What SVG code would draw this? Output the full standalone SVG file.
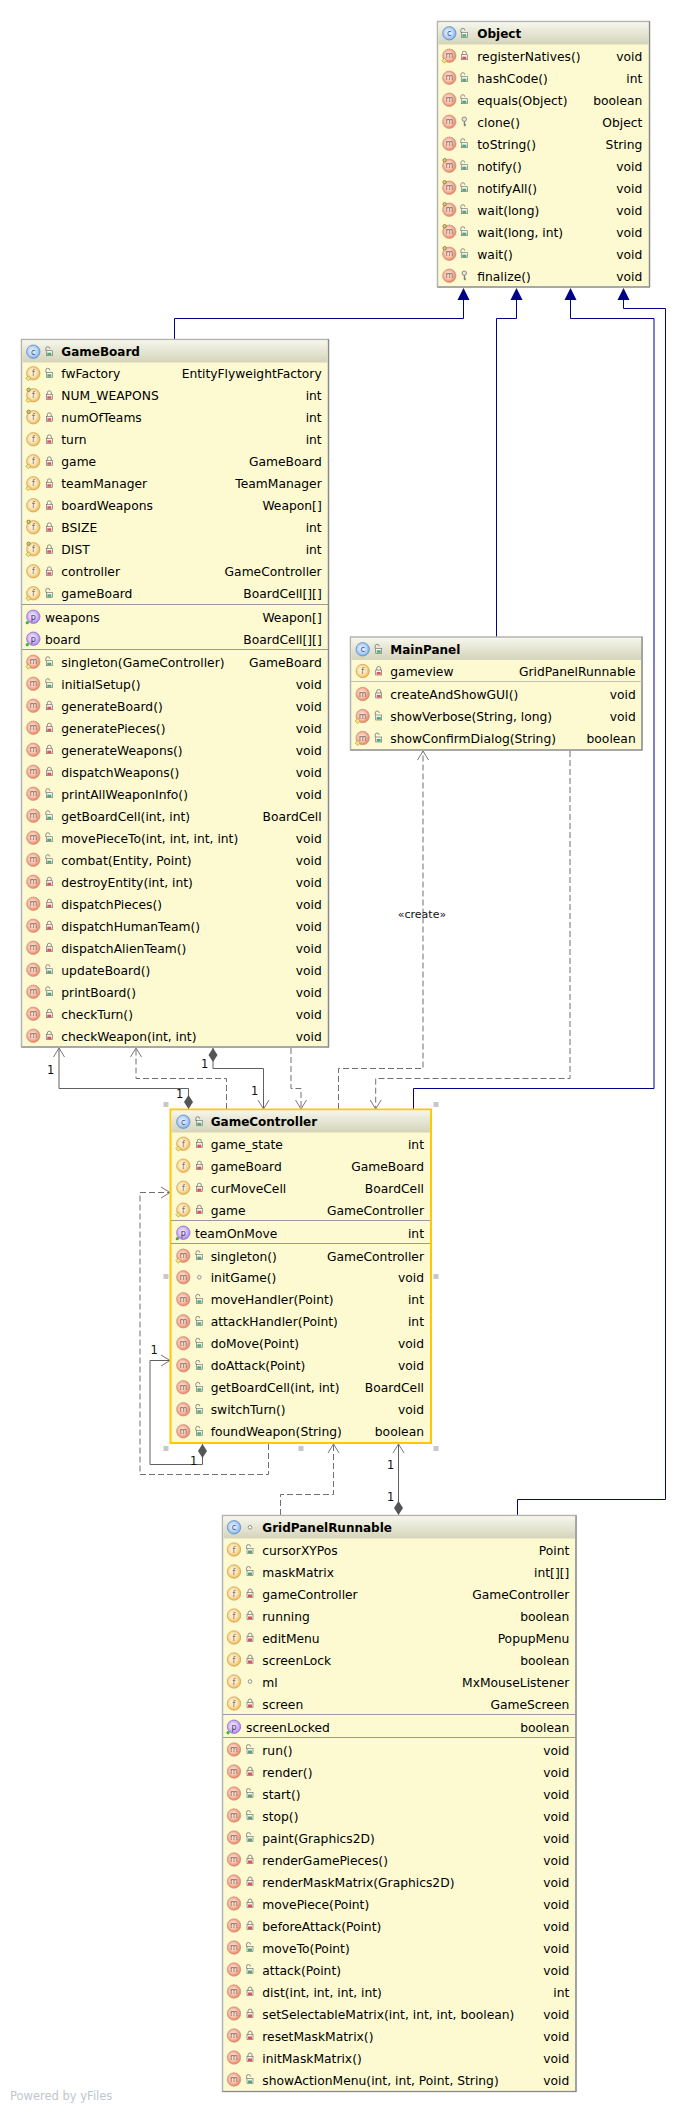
<svg xmlns="http://www.w3.org/2000/svg" width="685" height="2112" viewBox="0 0 685 2112">
<style>
text{font-family:"DejaVu Sans","Liberation Sans",sans-serif;font-size:12.3px;fill:#000}
.r{text-anchor:end}
.h{font-weight:bold;font-size:12px}
.box{stroke:#b4b4b4;stroke-width:1.5}
.edge{fill:none;stroke:#8a8a8a;stroke-width:1.2}
.sep{stroke:#9a9a9a;stroke-width:1}
.ic{font-size:8px;text-anchor:middle;fill:#806860}
.inh{fill:none;stroke:#00008b;stroke-width:1;marker-end:url(#tri)}
.dep{fill:none;stroke:#707070;stroke-width:1;stroke-dasharray:6 3;marker-end:url(#open)}
.ass{fill:none;stroke:#606060;stroke-width:1;marker-end:url(#open);marker-start:url(#dia)}
.lab{font-size:11.5px;fill:#111}
.hd{fill:#c8c8c8}
</style>
<defs>
<linearGradient id="hg" x1="0" y1="0" x2="0" y2="1"><stop offset="0" stop-color="#f6f6ec"/><stop offset="1" stop-color="#d4d4ba"/></linearGradient>
<radialGradient id="gm" cx=".45" cy=".45" r=".6"><stop offset="0" stop-color="#fdeee6"/><stop offset=".5" stop-color="#f8c4ae"/><stop offset="1" stop-color="#ea7050"/></radialGradient>
<radialGradient id="gf" cx=".45" cy=".45" r=".6"><stop offset="0" stop-color="#fffaf0"/><stop offset=".5" stop-color="#fbe4b4"/><stop offset="1" stop-color="#f0ad3c"/></radialGradient>
<radialGradient id="gp" cx=".45" cy=".45" r=".6"><stop offset="0" stop-color="#f4ecff"/><stop offset=".5" stop-color="#d8c4f6"/><stop offset="1" stop-color="#a679e6"/></radialGradient>
<radialGradient id="gc" cx=".45" cy=".45" r=".6"><stop offset="0" stop-color="#eef5ff"/><stop offset=".5" stop-color="#c0d9f8"/><stop offset="1" stop-color="#6ea6ea"/></radialGradient>
<marker id="tri" markerUnits="userSpaceOnUse" markerWidth="14" markerHeight="14" refX="0" refY="7" orient="auto"><path d="M0 1L12 7L0 13Z" fill="#00008b"/></marker>
<marker id="open" markerUnits="userSpaceOnUse" markerWidth="12" markerHeight="14" refX="10" refY="7" orient="auto"><path d="M1 1.500L10 7L1 12.500" fill="none" stroke="#777" stroke-width="1"/></marker>
<marker id="dia" markerUnits="userSpaceOnUse" markerWidth="16" markerHeight="12" refX="0" refY="6" orient="auto"><path d="M0 6L7 1.500L14 6L7 10.500Z" fill="#555"/></marker>
<g id="m"><circle r="6.700" fill="url(#gm)" stroke="#c89080" stroke-width=".7"/><text class="ic" y="2.500">m</text></g>
<g id="f"><circle r="6.700" fill="url(#gf)" stroke="#c8a050" stroke-width=".7"/><text class="ic" y="3">f</text></g>
<g id="p"><circle r="6.700" fill="url(#gp)" stroke="#8860c0" stroke-width=".7"/><text class="ic" y="3" style="fill:#402870">p</text><circle cx="-6" cy="6" r="1.600" fill="#40b040"/></g>
<g id="c"><circle r="6.700" fill="url(#gc)" stroke="#5a84c0" stroke-width=".7"/><text class="ic" y="3" style="fill:#30508c">c</text></g>
<path id="st" d="M-5 2.500L-2.500 5L-5 7.500L-7.500 5Z" fill="#f6e27a" stroke="#a89040" stroke-width=".6"/>
<g id="fi"><circle cx="-4.700" cy="-5.500" r="1.700" fill="#e8d070" stroke="#706030" stroke-width=".7"/></g>
<g id="ms"><use href="#m"/><use href="#st"/></g>
<g id="mf"><use href="#m"/><use href="#fi"/></g>
<g id="fs"><use href="#f"/><use href="#st"/></g>
<g id="ff"><use href="#f"/><use href="#fi"/></g>
<g id="fsf"><use href="#f"/><use href="#st"/><use href="#fi"/></g>
<g id="pub"><path d="M-3.500 -1V-3a2 2 0 0 1 4 0" fill="none" stroke="#808080" stroke-width=".9"/><rect x="-3" y="-1" width="6" height="5" fill="#f4f4f0" stroke="#606860" stroke-width=".6"/><rect x="-2" y="1" width="4" height="2.500" fill="#50a878"/></g>
<g id="pri"><path d="M-2 -1V-2.500a2 2 0 0 1 4 0V-1" fill="none" stroke="#808080" stroke-width=".9"/><rect x="-3" y="-1" width="6" height="5" fill="#f4f0f0" stroke="#686060" stroke-width=".6"/><rect x="-2" y="1" width="4" height="2.500" fill="#d85858"/></g>
<g id="pro"><circle cy="-2.500" r="2.200" fill="#e8e8e0" stroke="#707070" stroke-width=".8"/><path d="M0 -.5V4M0 2.500H1.500M0 4H1.500" fill="none" stroke="#607060" stroke-width="1"/></g>
<circle id="pkg" r="1.800" fill="#fff" stroke="#777" stroke-width=".8"/>
</defs>

<g id="connectors">
<path class="inh" d="M174.500 339V318.500H463.500V300"/>
<path class="inh" d="M496.500 637V318.500H516.500V300"/>
<path class="inh" d="M413.500 1109V1088.500H654V318.500H570.500V300"/>
<path class="inh" d="M517.500 1515V1499.500H665.500V308.500H623.500V300"/>
<path class="ass" d="M188.500 1109V1088.500H59V1048"/>
<path class="dep" d="M226.500 1109V1078.500H136V1048"/>
<path class="ass" d="M213 1048V1068.500H263.500V1109"/>
<path class="dep" d="M291 1048V1088.500H301V1109"/>
<path class="dep" d="M338.500 1109V1068.500H423V751"/>
<path class="dep" d="M570 751V1078.500H375.700V1109"/>
<path class="dep" d="M268.500 1444V1474.500H140V1192.500H170"/>
<path class="ass" d="M202.500 1444V1464.500H150V1360.500H170"/>
<path class="dep" d="M280.500 1515V1494.500H333.500V1444"/>
<path class="ass" d="M398.500 1515V1444"/>
<text class="lab" x="47" y="1074">1</text>
<text class="lab" x="176" y="1098">1</text>
<text class="lab" x="201" y="1068">1</text>
<text class="lab" x="251" y="1095">1</text>
<text class="lab" x="150.500" y="1354">1</text>
<text class="lab" x="190" y="1465">1</text>
<text class="lab" x="387" y="1469">1</text>
<text class="lab" x="387" y="1501">1</text>
<text class="lab" x="422" y="918" style="text-anchor:middle;font-size:11px">«create»</text>
</g>

<g id="Object">
<rect class="box" x="437.500" y="21.500" width="212" height="265.500" fill="#fdfad2"/>
<rect x="438.500" y="22.500" width="210" height="22" fill="url(#hg)"/>
<path class="edge" d="M649.500 21.500V287H437.500"/>
<g transform="translate(449.300 0)">
<g transform="translate(0 33.300)"><use href="#c"/><use href="#pub" x="15"/><text class="h" x="28" y="4.500">Object</text></g>
<g transform="translate(0 55.700)"><use href="#ms"/><use href="#pri" x="15"/><text x="28" y="5">registerNatives()</text><text class="r" x="193" y="5">void</text></g>
<g transform="translate(0 77.700)"><use href="#m"/><use href="#pub" x="15"/><text x="28" y="5">hashCode()</text><text class="r" x="193" y="5">int</text></g>
<g transform="translate(0 99.700)"><use href="#m"/><use href="#pub" x="15"/><text x="28" y="5">equals(Object)</text><text class="r" x="193" y="5">boolean</text></g>
<g transform="translate(0 121.700)"><use href="#m"/><use href="#pro" x="15"/><text x="28" y="5">clone()</text><text class="r" x="193" y="5">Object</text></g>
<g transform="translate(0 143.700)"><use href="#m"/><use href="#pub" x="15"/><text x="28" y="5">toString()</text><text class="r" x="193" y="5">String</text></g>
<g transform="translate(0 165.700)"><use href="#mf"/><use href="#pub" x="15"/><text x="28" y="5">notify()</text><text class="r" x="193" y="5">void</text></g>
<g transform="translate(0 187.700)"><use href="#mf"/><use href="#pub" x="15"/><text x="28" y="5">notifyAll()</text><text class="r" x="193" y="5">void</text></g>
<g transform="translate(0 209.700)"><use href="#mf"/><use href="#pub" x="15"/><text x="28" y="5">wait(long)</text><text class="r" x="193" y="5">void</text></g>
<g transform="translate(0 231.700)"><use href="#mf"/><use href="#pub" x="15"/><text x="28" y="5">wait(long, int)</text><text class="r" x="193" y="5">void</text></g>
<g transform="translate(0 253.700)"><use href="#mf"/><use href="#pub" x="15"/><text x="28" y="5">wait()</text><text class="r" x="193" y="5">void</text></g>
<g transform="translate(0 275.700)"><use href="#m"/><use href="#pro" x="15"/><text x="28" y="5">finalize()</text><text class="r" x="193" y="5">void</text></g>
</g>
</g>

<g id="GameBoard">
<rect class="box" x="21.500" y="339.500" width="307" height="707.500" fill="#fdfad2"/>
<rect x="22.500" y="340.500" width="305" height="22" fill="url(#hg)"/>
<path class="edge" d="M328.500 339.500V1047H21.500"/>
<path class="sep" d="M22 604.500H328M22 649.500H328"/>
<g transform="translate(33.300 0)">
<g transform="translate(0 351.700)"><use href="#c"/><use href="#pub" x="16"/><text class="h" x="28" y="4.500">GameBoard</text></g>
<g transform="translate(0 373.300)"><use href="#fs"/><use href="#pub" x="16"/><text x="28" y="5">fwFactory</text><text class="r" x="288.400" y="5">EntityFlyweightFactory</text></g>
<g transform="translate(0 395.300)"><use href="#fsf"/><use href="#pri" x="16"/><text x="28" y="5">NUM_WEAPONS</text><text class="r" x="288.400" y="5">int</text></g>
<g transform="translate(0 417.300)"><use href="#ff"/><use href="#pri" x="16"/><text x="28" y="5">numOfTeams</text><text class="r" x="288.400" y="5">int</text></g>
<g transform="translate(0 439.300)"><use href="#f"/><use href="#pri" x="16"/><text x="28" y="5">turn</text><text class="r" x="288.400" y="5">int</text></g>
<g transform="translate(0 461.300)"><use href="#fs"/><use href="#pri" x="16"/><text x="28" y="5">game</text><text class="r" x="288.400" y="5">GameBoard</text></g>
<g transform="translate(0 483.300)"><use href="#fs"/><use href="#pri" x="16"/><text x="28" y="5">teamManager</text><text class="r" x="288.400" y="5">TeamManager</text></g>
<g transform="translate(0 505.300)"><use href="#f"/><use href="#pri" x="16"/><text x="28" y="5">boardWeapons</text><text class="r" x="288.400" y="5">Weapon[]</text></g>
<g transform="translate(0 527.300)"><use href="#ff"/><use href="#pri" x="16"/><text x="28" y="5">BSIZE</text><text class="r" x="288.400" y="5">int</text></g>
<g transform="translate(0 549.300)"><use href="#fsf"/><use href="#pri" x="16"/><text x="28" y="5">DIST</text><text class="r" x="288.400" y="5">int</text></g>
<g transform="translate(0 571.300)"><use href="#f"/><use href="#pri" x="16"/><text x="28" y="5">controller</text><text class="r" x="288.400" y="5">GameController</text></g>
<g transform="translate(0 593.300)"><use href="#fs"/><use href="#pub" x="16"/><text x="28" y="5">gameBoard</text><text class="r" x="288.400" y="5">BoardCell[][]</text></g>
<g transform="translate(0 616.700)"><use href="#p"/><text x="11.700" y="5">weapons</text><text class="r" x="288.400" y="5">Weapon[]</text></g>
<g transform="translate(0 638.700)"><use href="#p"/><text x="11.700" y="5">board</text><text class="r" x="288.400" y="5">BoardCell[][]</text></g>
<g transform="translate(0 661.700)"><use href="#ms"/><use href="#pub" x="16"/><text x="28" y="5">singleton(GameController)</text><text class="r" x="288.400" y="5">GameBoard</text></g>
<g transform="translate(0 683.700)"><use href="#m"/><use href="#pub" x="16"/><text x="28" y="5">initialSetup()</text><text class="r" x="288.400" y="5">void</text></g>
<g transform="translate(0 705.700)"><use href="#m"/><use href="#pri" x="16"/><text x="28" y="5">generateBoard()</text><text class="r" x="288.400" y="5">void</text></g>
<g transform="translate(0 727.700)"><use href="#m"/><use href="#pri" x="16"/><text x="28" y="5">generatePieces()</text><text class="r" x="288.400" y="5">void</text></g>
<g transform="translate(0 749.700)"><use href="#m"/><use href="#pri" x="16"/><text x="28" y="5">generateWeapons()</text><text class="r" x="288.400" y="5">void</text></g>
<g transform="translate(0 771.700)"><use href="#m"/><use href="#pri" x="16"/><text x="28" y="5">dispatchWeapons()</text><text class="r" x="288.400" y="5">void</text></g>
<g transform="translate(0 793.700)"><use href="#m"/><use href="#pub" x="16"/><text x="28" y="5">printAllWeaponInfo()</text><text class="r" x="288.400" y="5">void</text></g>
<g transform="translate(0 815.700)"><use href="#m"/><use href="#pub" x="16"/><text x="28" y="5">getBoardCell(int, int)</text><text class="r" x="288.400" y="5">BoardCell</text></g>
<g transform="translate(0 837.700)"><use href="#m"/><use href="#pub" x="16"/><text x="28" y="5">movePieceTo(int, int, int, int)</text><text class="r" x="288.400" y="5">void</text></g>
<g transform="translate(0 859.700)"><use href="#m"/><use href="#pub" x="16"/><text x="28" y="5">combat(Entity, Point)</text><text class="r" x="288.400" y="5">void</text></g>
<g transform="translate(0 881.700)"><use href="#m"/><use href="#pri" x="16"/><text x="28" y="5">destroyEntity(int, int)</text><text class="r" x="288.400" y="5">void</text></g>
<g transform="translate(0 903.700)"><use href="#m"/><use href="#pri" x="16"/><text x="28" y="5">dispatchPieces()</text><text class="r" x="288.400" y="5">void</text></g>
<g transform="translate(0 925.700)"><use href="#m"/><use href="#pri" x="16"/><text x="28" y="5">dispatchHumanTeam()</text><text class="r" x="288.400" y="5">void</text></g>
<g transform="translate(0 947.700)"><use href="#m"/><use href="#pri" x="16"/><text x="28" y="5">dispatchAlienTeam()</text><text class="r" x="288.400" y="5">void</text></g>
<g transform="translate(0 969.700)"><use href="#m"/><use href="#pub" x="16"/><text x="28" y="5">updateBoard()</text><text class="r" x="288.400" y="5">void</text></g>
<g transform="translate(0 991.700)"><use href="#m"/><use href="#pub" x="16"/><text x="28" y="5">printBoard()</text><text class="r" x="288.400" y="5">void</text></g>
<g transform="translate(0 1013.700)"><use href="#m"/><use href="#pri" x="16"/><text x="28" y="5">checkTurn()</text><text class="r" x="288.400" y="5">void</text></g>
<g transform="translate(0 1035.700)"><use href="#m"/><use href="#pri" x="16"/><text x="28" y="5">checkWeapon(int, int)</text><text class="r" x="288.400" y="5">void</text></g>
</g>
</g>

<g id="MainPanel">
<rect class="box" x="350.500" y="637" width="291.500" height="113" fill="#fdfad2"/>
<rect x="351.500" y="638" width="290" height="22" fill="url(#hg)"/>
<path class="edge" d="M642 637V750H350.500"/>
<path class="sep" d="M351 681.500H642" style="stroke:#c0c0b0"/>
<g transform="translate(362.700 0)">
<g transform="translate(0 649.300)"><use href="#c"/><use href="#pub" x="16"/><text class="h" x="27.600" y="4.500">MainPanel</text></g>
<g transform="translate(0 671)"><use href="#f"/><use href="#pri" x="16"/><text x="27.600" y="5">gameview</text><text class="r" x="273" y="5">GridPanelRunnable</text></g>
<g transform="translate(0 694)"><use href="#m"/><use href="#pri" x="16"/><text x="27.600" y="5">createAndShowGUI()</text><text class="r" x="273" y="5">void</text></g>
<g transform="translate(0 716)"><use href="#ms"/><use href="#pub" x="16"/><text x="27.600" y="5">showVerbose(String, long)</text><text class="r" x="273" y="5">void</text></g>
<g transform="translate(0 738)"><use href="#ms"/><use href="#pub" x="16"/><text x="27.600" y="5">showConfirmDialog(String)</text><text class="r" x="273" y="5">boolean</text></g>
</g>
</g>

<g id="GameController">
<rect x="170.500" y="1109.500" width="260.500" height="333.500" fill="#fdfad2" stroke="#ffc800" stroke-width="2"/>
<rect x="171.500" y="1110.500" width="258.500" height="22" fill="url(#hg)"/>
<path class="sep" d="M171 1220.500H430M171 1243.500H430"/>
<g class="hd"><rect x="163.500" y="1102" width="5" height="5"/><rect x="433.500" y="1102" width="5" height="5"/><rect x="163.500" y="1274" width="5" height="5"/><rect x="433.500" y="1274" width="5" height="5"/><rect x="163.500" y="1446" width="5" height="5"/><rect x="298.500" y="1446" width="5" height="5"/><rect x="433.500" y="1446" width="5" height="5"/></g>
<g transform="translate(183.300 0)">
<g transform="translate(0 1121.700)"><use href="#c"/><use href="#pub" x="16"/><text class="h" x="27.400" y="4.500">GameController</text></g>
<g transform="translate(0 1143.700)"><use href="#fs"/><use href="#pri" x="16"/><text x="27.400" y="5">game_state</text><text class="r" x="240.700" y="5">int</text></g>
<g transform="translate(0 1165.700)"><use href="#f"/><use href="#pri" x="16"/><text x="27.400" y="5">gameBoard</text><text class="r" x="240.700" y="5">GameBoard</text></g>
<g transform="translate(0 1187.700)"><use href="#f"/><use href="#pri" x="16"/><text x="27.400" y="5">curMoveCell</text><text class="r" x="240.700" y="5">BoardCell</text></g>
<g transform="translate(0 1209.700)"><use href="#fs"/><use href="#pri" x="16"/><text x="27.400" y="5">game</text><text class="r" x="240.700" y="5">GameController</text></g>
<g transform="translate(0 1232.700)"><use href="#p"/><text x="11.700" y="5">teamOnMove</text><text class="r" x="240.700" y="5">int</text></g>
<g transform="translate(0 1255.700)"><use href="#ms"/><use href="#pub" x="16"/><text x="27.400" y="5">singleton()</text><text class="r" x="240.700" y="5">GameController</text></g>
<g transform="translate(0 1277.300)"><use href="#m"/><use href="#pkg" x="16"/><text x="27.400" y="5">initGame()</text><text class="r" x="240.700" y="5">void</text></g>
<g transform="translate(0 1299.300)"><use href="#m"/><use href="#pub" x="16"/><text x="27.400" y="5">moveHandler(Point)</text><text class="r" x="240.700" y="5">int</text></g>
<g transform="translate(0 1321.300)"><use href="#m"/><use href="#pub" x="16"/><text x="27.400" y="5">attackHandler(Point)</text><text class="r" x="240.700" y="5">int</text></g>
<g transform="translate(0 1343.300)"><use href="#m"/><use href="#pub" x="16"/><text x="27.400" y="5">doMove(Point)</text><text class="r" x="240.700" y="5">void</text></g>
<g transform="translate(0 1365.300)"><use href="#m"/><use href="#pub" x="16"/><text x="27.400" y="5">doAttack(Point)</text><text class="r" x="240.700" y="5">void</text></g>
<g transform="translate(0 1387.300)"><use href="#m"/><use href="#pub" x="16"/><text x="27.400" y="5">getBoardCell(int, int)</text><text class="r" x="240.700" y="5">BoardCell</text></g>
<g transform="translate(0 1409.300)"><use href="#m"/><use href="#pub" x="16"/><text x="27.400" y="5">switchTurn()</text><text class="r" x="240.700" y="5">void</text></g>
<g transform="translate(0 1431.300)"><use href="#m"/><use href="#pub" x="16"/><text x="27.400" y="5">foundWeapon(String)</text><text class="r" x="240.700" y="5">boolean</text></g>
</g>
</g>

<g id="GridPanelRunnable">
<rect class="box" x="222.500" y="1515.500" width="353.500" height="576" fill="#fdfad2"/>
<rect x="223.500" y="1516.500" width="352" height="22" fill="url(#hg)"/>
<path class="edge" d="M576 1515.500V2091.500H222.500"/>
<path class="sep" d="M223 1714.500H576M223 1737.500H576"/>
<g transform="translate(234 0)">
<g transform="translate(0 1527.300)"><use href="#c"/><use href="#pkg" x="16"/><text class="h" x="28.300" y="4.500">GridPanelRunnable</text></g>
<g transform="translate(0 1549.500)"><use href="#f"/><use href="#pub" x="16"/><text x="28.300" y="5">cursorXYPos</text><text class="r" x="335.300" y="5">Point</text></g>
<g transform="translate(0 1571.500)"><use href="#f"/><use href="#pub" x="16"/><text x="28.300" y="5">maskMatrix</text><text class="r" x="335.300" y="5">int[][]</text></g>
<g transform="translate(0 1593.500)"><use href="#f"/><use href="#pri" x="16"/><text x="28.300" y="5">gameController</text><text class="r" x="335.300" y="5">GameController</text></g>
<g transform="translate(0 1615.500)"><use href="#f"/><use href="#pri" x="16"/><text x="28.300" y="5">running</text><text class="r" x="335.300" y="5">boolean</text></g>
<g transform="translate(0 1637.500)"><use href="#f"/><use href="#pri" x="16"/><text x="28.300" y="5">editMenu</text><text class="r" x="335.300" y="5">PopupMenu</text></g>
<g transform="translate(0 1659.500)"><use href="#f"/><use href="#pri" x="16"/><text x="28.300" y="5">screenLock</text><text class="r" x="335.300" y="5">boolean</text></g>
<g transform="translate(0 1681.500)"><use href="#f"/><use href="#pkg" x="16"/><text x="28.300" y="5">ml</text><text class="r" x="335.300" y="5">MxMouseListener</text></g>
<g transform="translate(0 1703.500)"><use href="#f"/><use href="#pri" x="16"/><text x="28.300" y="5">screen</text><text class="r" x="335.300" y="5">GameScreen</text></g>
<g transform="translate(0 1726.700)"><use href="#p"/><text x="12" y="5">screenLocked</text><text class="r" x="335.300" y="5">boolean</text></g>
<g transform="translate(0 1749.500)"><use href="#m"/><use href="#pub" x="16"/><text x="28.300" y="5">run()</text><text class="r" x="335.300" y="5">void</text></g>
<g transform="translate(0 1771.500)"><use href="#m"/><use href="#pri" x="16"/><text x="28.300" y="5">render()</text><text class="r" x="335.300" y="5">void</text></g>
<g transform="translate(0 1793.500)"><use href="#m"/><use href="#pub" x="16"/><text x="28.300" y="5">start()</text><text class="r" x="335.300" y="5">void</text></g>
<g transform="translate(0 1815.500)"><use href="#m"/><use href="#pub" x="16"/><text x="28.300" y="5">stop()</text><text class="r" x="335.300" y="5">void</text></g>
<g transform="translate(0 1837.500)"><use href="#m"/><use href="#pub" x="16"/><text x="28.300" y="5">paint(Graphics2D)</text><text class="r" x="335.300" y="5">void</text></g>
<g transform="translate(0 1859.500)"><use href="#m"/><use href="#pri" x="16"/><text x="28.300" y="5">renderGamePieces()</text><text class="r" x="335.300" y="5">void</text></g>
<g transform="translate(0 1881.500)"><use href="#m"/><use href="#pri" x="16"/><text x="28.300" y="5">renderMaskMatrix(Graphics2D)</text><text class="r" x="335.300" y="5">void</text></g>
<g transform="translate(0 1903.500)"><use href="#m"/><use href="#pri" x="16"/><text x="28.300" y="5">movePiece(Point)</text><text class="r" x="335.300" y="5">void</text></g>
<g transform="translate(0 1925.500)"><use href="#m"/><use href="#pri" x="16"/><text x="28.300" y="5">beforeAttack(Point)</text><text class="r" x="335.300" y="5">void</text></g>
<g transform="translate(0 1947.500)"><use href="#m"/><use href="#pub" x="16"/><text x="28.300" y="5">moveTo(Point)</text><text class="r" x="335.300" y="5">void</text></g>
<g transform="translate(0 1969.500)"><use href="#m"/><use href="#pub" x="16"/><text x="28.300" y="5">attack(Point)</text><text class="r" x="335.300" y="5">void</text></g>
<g transform="translate(0 1991.500)"><use href="#m"/><use href="#pri" x="16"/><text x="28.300" y="5">dist(int, int, int, int)</text><text class="r" x="335.300" y="5">int</text></g>
<g transform="translate(0 2013.500)"><use href="#m"/><use href="#pri" x="16"/><text x="28.300" y="5">setSelectableMatrix(int, int, int, boolean)</text><text class="r" x="335.300" y="5">void</text></g>
<g transform="translate(0 2035.500)"><use href="#m"/><use href="#pri" x="16"/><text x="28.300" y="5">resetMaskMatrix()</text><text class="r" x="335.300" y="5">void</text></g>
<g transform="translate(0 2057.500)"><use href="#m"/><use href="#pri" x="16"/><text x="28.300" y="5">initMaskMatrix()</text><text class="r" x="335.300" y="5">void</text></g>
<g transform="translate(0 2079.500)"><use href="#m"/><use href="#pub" x="16"/><text x="28.300" y="5">showActionMenu(int, int, Point, String)</text><text class="r" x="335.300" y="5">void</text></g>
</g>
</g>
<text x="10" y="2100" style="font-size:11.500px;fill:#c2c6cc">Powered by yFiles</text>
</svg>
